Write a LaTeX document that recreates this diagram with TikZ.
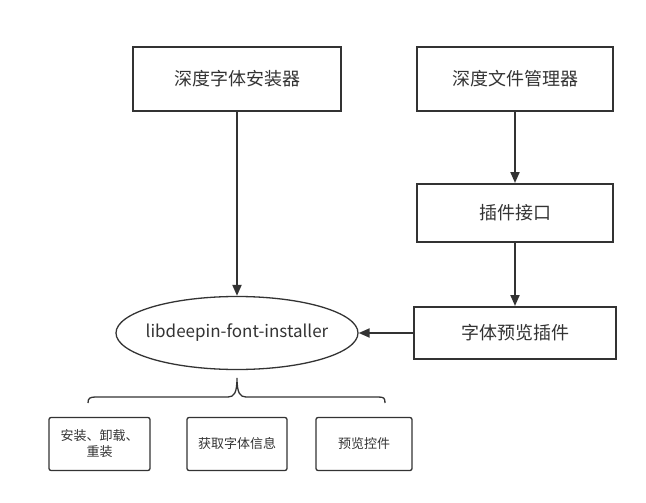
\documentclass[tikz,border=0pt]{standalone}
\usepackage{fontspec}
\setmainfont{Noto Sans CJK SC}
\usetikzlibrary{shapes.geometric,arrows.meta}
\definecolor{linegray}{HTML}{333333}
\begin{document}
\begin{tikzpicture}[x=1pt,y=-1pt,
    bigbox/.style={draw=linegray,line width=2pt,text=linegray,inner sep=0pt,
      font=\fontsize{18}{21}\selectfont},
    smallbox/.style={draw=linegray,line width=1.3pt,rounded corners=2pt,text=linegray,
      inner sep=0pt,minimum width=101pt,minimum height=53pt,align=center,
      font=\fontsize{13}{16}\selectfont},
    libnode/.style={ellipse,draw=linegray,line width=1.3pt,inner sep=0pt,
      minimum width=242pt,minimum height=73pt},
    libtext/.style={text=linegray,font=\fontsize{17}{20}\selectfont},
    flow/.style={draw=linegray,line width=2pt,-{Triangle[length=11pt,width=9pt]}}]
  \useasboundingbox (0,0) rectangle (646,503);
  \draw
    (237,79) node[bigbox,minimum width=208pt,minimum height=64pt] (installer){深度字体安装器}
    (515,79) node[bigbox,minimum width=196pt,minimum height=64pt] (filemgr){深度文件管理器}
    (515,213) node[bigbox,minimum width=196pt,minimum height=58pt] (iface){插件接口}
    (515,333) node[bigbox,minimum width=202pt,minimum height=52pt] (plugin){字体预览插件}
    (237,333) node[libnode,label={[libtext]center:libdeepin-font-installer}] (lib){}
    (99.5,444) node[smallbox] (setup){安装、卸载、\\重装}
    (237,444) node[smallbox,minimum width=100pt] (info){获取字体信息}
    (364,444) node[smallbox,minimum width=96pt] (preview){预览控件};
  \begin{scope}[flow]
    \draw (installer) to (lib);
    \draw (filemgr) to (iface);
    \draw (iface) to (plugin);
    \draw (plugin) to (lib);
  \end{scope}
  % brace over the three parts
  \coordinate (braceL) at (88,403);
  \coordinate (braceT) at (237,378);
  \coordinate (braceR) at (385,403);
  \draw[linegray,line width=1.3pt]
    (braceL) .. controls (88,398) and (90,397) .. (96,397) -- (228,397)
    .. controls (234,397) and (237,393) .. (braceT)
    .. controls (237,393) and (240,397) .. (246,397) -- (378,397)
    .. controls (384,397) and (385,398) .. (braceR);
\end{tikzpicture}
\end{document}
